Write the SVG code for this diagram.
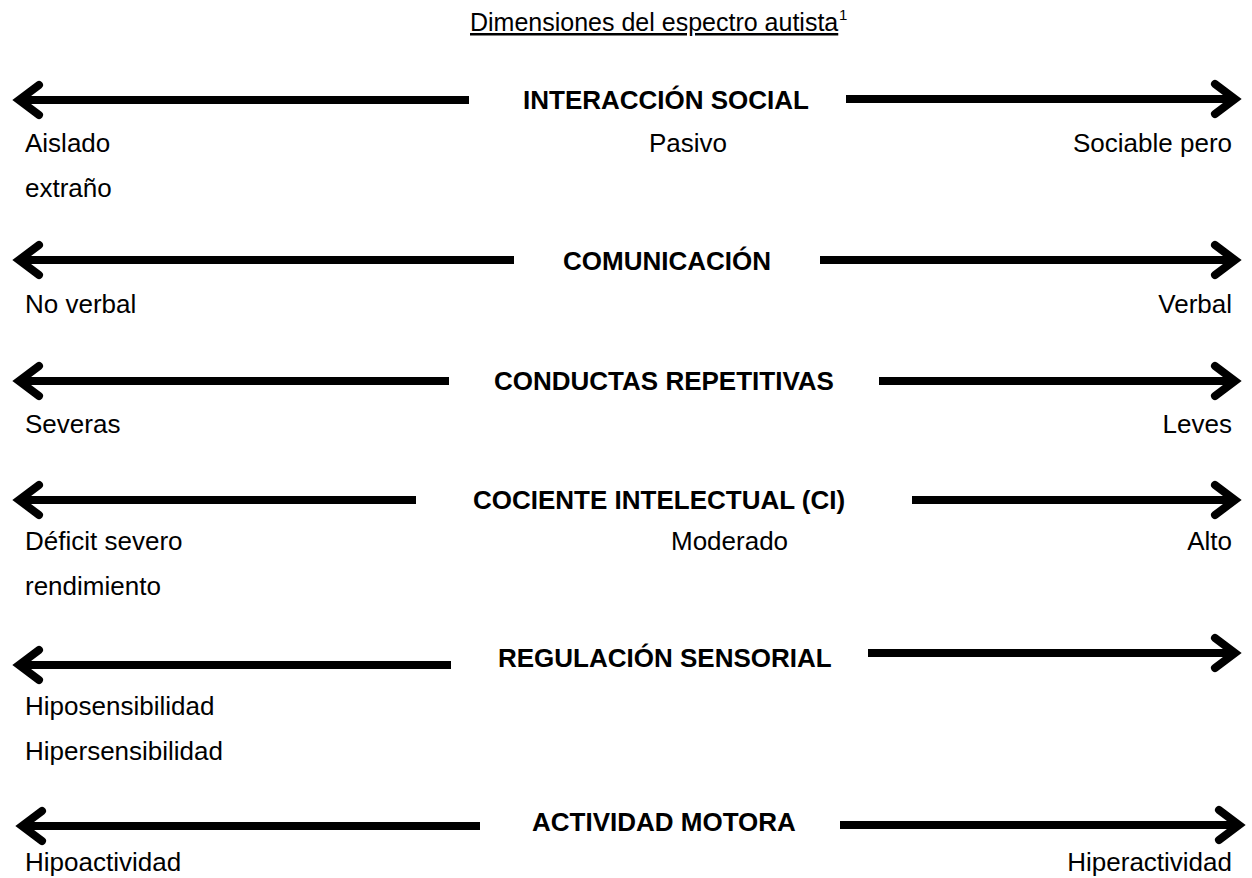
<svg xmlns="http://www.w3.org/2000/svg" width="1252" height="878" viewBox="0 0 1252 878">
<style>
text{font-family:"Liberation Sans",Arial,sans-serif;font-size:26px;fill:#000}
.lbl{font-weight:bold}
.end{text-anchor:end}
.ax{stroke:#000;stroke-width:8;fill:none;marker-end:url(#chev)}
</style>
<defs>
<marker id="chev" markerUnits="userSpaceOnUse" viewBox="-30 -20 42 40" refX="0" refY="0" markerWidth="42" markerHeight="40" orient="auto" overflow="visible">
<path d="M-20,-15 L0,0 L-20,15" fill="none" stroke="#000" stroke-width="8" stroke-linejoin="miter" stroke-linecap="round"/>
</marker>
</defs>
<rect width="1252" height="878" fill="#fff"/>
<g id="title">
<text x="470" y="31" style="font-size:25px" text-decoration="underline">Dimensiones del espectro autista</text>
<text x="839" y="20" style="font-size:15px">1</text>
</g>
<g id="connectors">
<line class="ax" x1="469" y1="100" x2="19" y2="100"/>
<line class="ax" x1="846" y1="99" x2="1235" y2="99"/>
<line class="ax" x1="514" y1="260" x2="19" y2="260"/>
<line class="ax" x1="820" y1="260" x2="1235" y2="260"/>
<line class="ax" x1="449" y1="381" x2="19" y2="381"/>
<line class="ax" x1="879" y1="381" x2="1235" y2="381"/>
<line class="ax" x1="416" y1="500" x2="19" y2="500"/>
<line class="ax" x1="912" y1="500" x2="1235" y2="500"/>
<line class="ax" x1="451" y1="665" x2="19" y2="665"/>
<line class="ax" x1="868" y1="653" x2="1235" y2="653"/>
<line class="ax" x1="480" y1="826" x2="22" y2="826"/>
<line class="ax" x1="840" y1="825" x2="1239" y2="825"/>
</g>
<g id="interaccion">
<text class="lbl" x="523" y="109">INTERACCIÓN SOCIAL</text>
<text x="25" y="152">Aislado</text>
<text x="649" y="152">Pasivo</text>
<text class="end" x="1232" y="152">Sociable pero</text>
<text x="25" y="197">extraño</text>
</g>
<g id="comunicacion">
<text class="lbl" x="563" y="270">COMUNICACIÓN</text>
<text x="25" y="313">No verbal</text>
<text class="end" x="1232" y="313">Verbal</text>
</g>
<g id="conductas">
<text class="lbl" x="494" y="390">CONDUCTAS REPETITIVAS</text>
<text x="25" y="433">Severas</text>
<text class="end" x="1232" y="433">Leves</text>
</g>
<g id="cociente">
<text class="lbl" x="473" y="509">COCIENTE INTELECTUAL (CI)</text>
<text x="25" y="550">Déficit severo</text>
<text x="671" y="550">Moderado</text>
<text class="end" x="1232" y="550">Alto</text>
<text x="25" y="595">rendimiento</text>
</g>
<g id="regulacion">
<text class="lbl" x="498" y="667">REGULACIÓN SENSORIAL</text>
<text x="25" y="715">Hiposensibilidad</text>
<text x="25" y="760">Hipersensibilidad</text>
</g>
<g id="actividad">
<text class="lbl" x="532" y="831">ACTIVIDAD MOTORA</text>
<text x="25" y="871">Hipoactividad</text>
<text class="end" x="1232" y="871">Hiperactividad</text>
</g>
</svg>
